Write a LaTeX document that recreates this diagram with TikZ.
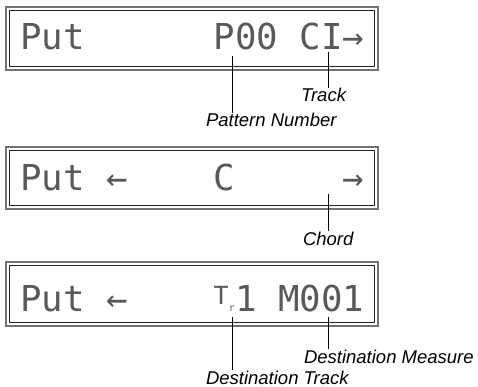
\documentclass[tikz,border=0pt]{standalone}
\usepackage{fontspec}
\newfontfamily\lcdfont{DejaVu Sans Mono}
\newfontfamily\notefont{Liberation Sans}
\newcommand{\trackmark}{\makebox[0.602em][l]{\raisebox{7pt}{\fontsize{25}{25}\selectfont T}\fontsize{10}{10}\selectfont r}}

\tikzset{
  lcdframe/.style={draw=black!55, line width=1.4pt},
  lcdinner/.style={draw=black!85, line width=0.7pt},
  lcdtext/.style={font=\lcdfont\fontsize{35.7}{36}\selectfont, text=black!65, inner sep=0pt, anchor=base west},
  callout/.style={font=\notefont\itshape\fontsize{18.5}{20}\selectfont, inner sep=0pt, outer sep=1pt},
  leader/.style={line width=0.8pt}
}

\begin{document}
\begin{tikzpicture}[x=1pt,y=-1pt]
        \useasboundingbox (0,0) rectangle (478,387);

        % display frames
        \draw [lcdframe] (6, 7) rectangle (378, 70);
        \draw [lcdinner] (9.5, 10.5) rectangle (374.5, 66.5);
        \draw [lcdframe] (6, 147) rectangle (378, 209);
        \draw [lcdinner] (9.5, 150.5) rectangle (374.5, 205.5);
        \draw [lcdframe] (6, 262) rectangle (378, 326);
        \draw [lcdinner] (9.5, 265.5) rectangle (374.5, 322.5);

        % first display
        \node [lcdtext] (putA) at (20, 50) {Put};
        \node [lcdtext] (patNum) at (213.5, 50) {P00};
        \node [lcdtext] (trkA) at (299.5, 50) {CI→};
        \node [callout, anchor=base west] (patLabel) at (205, 127) {Pattern Number};
        \node [callout, anchor=base east] (trkLabel) at (347, 102) {Track};
        \coordinate (patTop) at (232, 56);
        \coordinate (trkTop) at (328, 52);
        \draw [leader] (patTop) -- (patTop |- patLabel.north);
        \draw [leader] (trkTop) -- (trkTop |- trkLabel.north);

        % second display
        \node [lcdtext] (putB) at (20, 190) {Put};
        \node [lcdtext] (leftB) at (106, 190) {←};
        \node [lcdtext] (chordVal) at (213.5, 190) {C};
        \node [lcdtext] (rightB) at (342.5, 190) {→};
        \node [callout, anchor=base west] (chordLabel) at (302, 245) {Chord};
        \coordinate (chordTop) at (328, 194);
        \draw [leader] (chordTop) -- (chordTop |- chordLabel.north);

        % third display
        \node [lcdtext] (putC) at (20, 311) {Put};
        \node [lcdtext] (leftC) at (106, 311) {←};
        \node [lcdtext] (destTrk) at (213.5, 311) {\trackmark 1};
        \node [lcdtext] (destMeas) at (278, 311) {M001};
        \node [callout, anchor=base west] (measLabel) at (303, 363) {Destination Measure};
        \node [callout, anchor=base west] (dtrkLabel) at (205, 384) {Destination Track};
        \coordinate (dtrkTop) at (232, 317);
        \coordinate (measTop) at (328, 317);
        \draw [leader] (dtrkTop) -- (dtrkTop |- dtrkLabel.north);
        \draw [leader] (measTop) -- (measTop |- measLabel.north);
    \end{tikzpicture}
\end{document}
